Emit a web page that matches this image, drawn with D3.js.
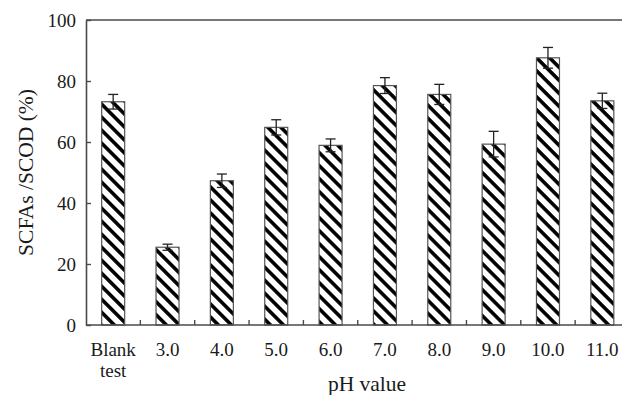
<!DOCTYPE html>
<html>
<head>
<meta charset="utf-8">
<script src="https://cdn.jsdelivr.net/npm/d3@7"></script>
<style>
  html, body { margin: 0; padding: 0; background: #fff; }
  svg { display: block; }
</style>
</head>
<body>
<svg id="chart" width="622" height="395"></svg>
<script>
// SCFAs/SCOD ratio at different pH values
const categories = ["Blank test", "3.0", "4.0", "5.0", "6.0", "7.0", "8.0", "9.0", "10.0", "11.0"];
const values = [73.2, 25.5, 47.3, 64.8, 58.9, 78.5, 75.6, 59.3, 87.6, 73.5];
const errors = [2.4, 1.0, 2.2, 2.5, 2.1, 2.6, 3.3, 4.2, 3.4, 2.5];
const yTicks = [0, 20, 40, 60, 80, 100];

const svg = d3.select("#chart");
const plotLeft = 86, plotRight = 629.5, plotTop = 20, plotBottom = 325;
const axisColor = "#4a4a4a";
const textColor = "#1a1a1a";
const serif = "'Liberation Serif', 'Times New Roman', serif";

const x = d3.scaleBand().domain(categories).range([plotLeft, plotRight]).padding(0);
const y = d3.scaleLinear().domain([0, 100]).range([plotBottom, plotTop]);

// diagonal hatch fill
const defs = svg.append("defs");
const pat = defs.append("pattern")
  .attr("id", "hatch")
  .attr("patternUnits", "userSpaceOnUse")
  .attr("width", 9.2).attr("height", 9.2)
  .attr("patternTransform", "rotate(45)");
pat.append("rect").attr("width", 9.2).attr("height", 9.2).attr("fill", "#fff");
pat.append("rect").attr("y", 0).attr("width", 9.2).attr("height", 3.6).attr("fill", "#000");

const barW = 23;

// bars
svg.append("g").selectAll("rect")
  .data(categories)
  .join("rect")
  .attr("x", (d) => x(d) + x.bandwidth() / 2 - barW / 2)
  .attr("y", (d, i) => y(values[i]))
  .attr("width", barW)
  .attr("height", (d, i) => y(0) - y(values[i]))
  .attr("fill", "url(#hatch)")
  .attr("stroke", "#555")
  .attr("stroke-width", 1.2);

// error bars
const eb = svg.append("g").attr("stroke", "#222").attr("stroke-width", 1.3);
categories.forEach((c, i) => {
  const cx = x(c) + x.bandwidth() / 2;
  const hi = y(values[i] + errors[i]);
  const lo = y(values[i] - errors[i]);
  eb.append("line").attr("x1", cx).attr("x2", cx).attr("y1", hi).attr("y2", lo);
  eb.append("line").attr("x1", cx - 5).attr("x2", cx + 5).attr("y1", hi).attr("y2", hi);
  eb.append("line").attr("x1", cx - 5).attr("x2", cx + 5).attr("y1", lo).attr("y2", lo);
});

// y axis with inward ticks
const yAxis = svg.append("g")
  .attr("transform", `translate(${plotLeft},0)`)
  .call(d3.axisLeft(y).tickValues(yTicks).tickSizeInner(-5).tickSizeOuter(0).tickPadding(10));
yAxis.select(".domain").attr("stroke", axisColor).attr("stroke-width", 1.6);
yAxis.selectAll(".tick line").attr("stroke", axisColor).attr("stroke-width", 1.4);
yAxis.selectAll(".tick text")
  .style("font-family", serif)
  .style("font-size", "19px")
  .attr("fill", textColor);

// top frame line
svg.append("line")
  .attr("x1", plotLeft).attr("x2", plotRight)
  .attr("y1", plotTop).attr("y2", plotTop)
  .attr("stroke", axisColor).attr("stroke-width", 1.6);

// x baseline
svg.append("line")
  .attr("x1", plotLeft).attr("x2", plotRight)
  .attr("y1", plotBottom).attr("y2", plotBottom)
  .attr("stroke", axisColor).attr("stroke-width", 1.6);

// x ticks at category boundaries, pointing inward
const bounds = categories.slice(1).map((c) => x(c));
svg.append("g").selectAll("line")
  .data(bounds)
  .join("line")
  .attr("x1", (d) => d).attr("x2", (d) => d)
  .attr("y1", plotBottom).attr("y2", plotBottom - 5)
  .attr("stroke", axisColor).attr("stroke-width", 1.4);

// x tick labels
const xl = svg.append("g");
categories.forEach((c) => {
  const cx = x(c) + x.bandwidth() / 2;
  const t = xl.append("text")
    .attr("x", cx).attr("y", 356)
    .attr("text-anchor", "middle")
    .attr("fill", textColor)
    .style("font-family", serif)
    .style("font-size", "19px");
  c.split(" ").forEach((p, j) => {
    t.append("tspan")
      .attr("x", cx)
      .attr("dy", j === 0 ? 0 : 21)
      .text(p);
  });
});

// axis titles
svg.append("text")
  .attr("x", 367).attr("y", 391)
  .attr("text-anchor", "middle")
  .attr("fill", textColor)
  .style("font-family", serif)
  .style("font-size", "21.5px")
  .text("pH value");

svg.append("text")
  .attr("transform", `translate(33,${(plotTop + plotBottom) / 2}) rotate(-90)`)
  .attr("text-anchor", "middle")
  .attr("fill", textColor)
  .style("font-family", serif)
  .style("font-size", "21.5px")
  .text("SCFAs /SCOD (%)");
</script>
</body>
</html>
